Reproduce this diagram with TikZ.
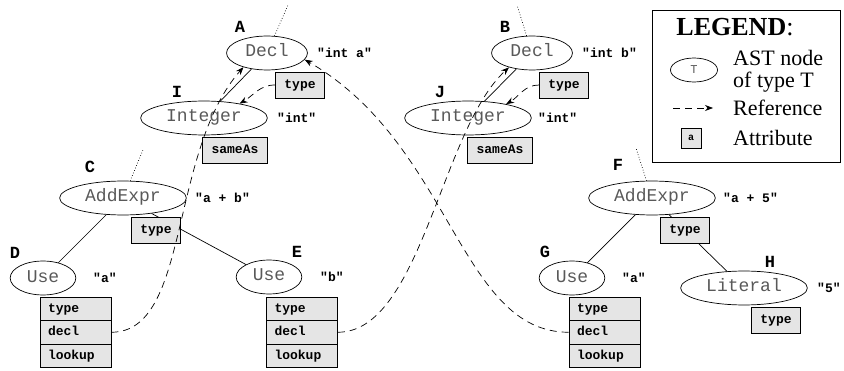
\documentclass[tikz,border=0pt]{standalone}
\usepackage{fontspec}
\setmainfont{Liberation Serif}
\setmonofont{Liberation Mono}
\usetikzlibrary{arrows.meta,shapes.geometric}
\tikzset{
	ast/.style={ellipse, draw, line width=0.7pt, inner xsep=7pt, inner ysep=5pt, text height=11pt, text depth=3pt, text=black!65, font=\fontsize{18}{18}\selectfont\ttfamily},
	attr/.style={draw, line width=0.7pt, fill=black!10, inner xsep=9pt, minimum height=26pt, text height=9pt, text depth=2pt, font=\fontsize{13}{13}\selectfont\ttfamily\bfseries},
	attrrow/.style={attr, minimum height=23.5pt, text width=55pt, inner xsep=8pt, align=left},
	nodetag/.style={font=\fontsize{17}{17}\selectfont\ttfamily\bfseries},
	srctext/.style={anchor=west, inner sep=0pt, font=\fontsize{13}{13}\selectfont\ttfamily\bfseries},
	link/.style={line width=0.7pt},
	uplink/.style={line width=0.7pt, dotted},
	refline/.style={line width=0.7pt, dash pattern=on 7pt off 5pt, -{Stealth[length=8pt,width=6pt]}},
	legendtext/.style={anchor=west, inner sep=0pt, font=\fontsize{22}{22}\selectfont},
}
\begin{document}
\begin{tikzpicture}[x=1pt, y=1pt]
			%%%%% START %%%%%
			\useasboundingbox (0, 0) rectangle (844, 370);
			
			% AST nodes
			\node[ast] (declA) at (267, 317) {Decl};
			\node[ast] (intI) at (204, 252) {Integer};
			\node[ast] (addC) at (123, 172) {AddExpr};
			\node[ast] (useD) at (43, 92) {Use};
			\node[ast] (useE) at (269, 93) {Use};
			
			\node[ast] (declB) at (532, 317) {Decl};
			\node[ast] (intJ) at (468, 252) {Integer};
			\node[ast] (addF) at (652, 172) {AddExpr};
			\node[ast] (useG) at (572, 92) {Use};
			\node[ast] (litH) at (744, 82) {Literal};
			
			% letters
			\node[nodetag] (tagA) at (240, 343) {A};
			\node[nodetag] (tagI) at (177, 278) {I};
			\node[nodetag] (tagC) at (90, 203) {C};
			\node[nodetag] (tagD) at (15, 117) {D};
			\node[nodetag] (tagE) at (297, 118) {E};
			\node[nodetag] (tagB) at (505, 343) {B};
			\node[nodetag] (tagJ) at (440, 278) {J};
			\node[nodetag] (tagF) at (618, 205) {F};
			\node[nodetag] (tagG) at (545, 118) {G};
			\node[nodetag] (tagH) at (770, 108) {H};
			
			% source text
			\node[srctext] (valA) at (317, 317) {"int a"};
			\node[srctext] (valI) at (277, 252) {"int"};
			\node[srctext] (valC) at (195, 172) {"a + b"};
			\node[srctext] (valD) at (93, 92) {"a"};
			\node[srctext] (valE) at (320, 93) {"b"};
			\node[srctext] (valB) at (582, 317) {"int b"};
			\node[srctext] (valJ) at (538, 252) {"int"};
			\node[srctext] (valF) at (723, 172) {"a + 5"};
			\node[srctext] (valG) at (622, 92) {"a"};
			\node[srctext] (valH) at (817, 82) {"5"};
			
			% tree edges
			\draw[link] (declA) -- (intI);
			\draw[link] (addC) -- (useD);
			\draw[link] (addC) -- (useE);
			\draw[link] (declB) -- (intJ);
			\draw[link] (addF) -- (useG);
			\draw[link] (addF) -- (litH);
			
			\coordinate (upA) at (288, 365);
			\coordinate (upB) at (517, 365);
			\coordinate (upC) at (143, 220);
			\coordinate (upF) at (636, 222);
			\draw[uplink] (declA) -- (upA);
			\draw[uplink] (declB) -- (upB);
			\draw[uplink] (addC) -- (upC);
			\draw[uplink] (addF) -- (upF);
			
			% attributes
			\node[attr] (typeA) at (300, 285) {type};
			\node[attr] (sameI) at (235, 220) {sameAs};
			\node[attr] (typeC) at (156, 140) {type};
			\node[attr] (typeB) at (564, 285) {type};
			\node[attr] (sameJ) at (500, 220) {sameAs};
			\node[attr] (typeF) at (685, 140) {type};
			\node[attr] (typeH) at (776, 50) {type};
			
			\node[attrrow] (typeD) at (75.5, 61.25) {type};
			\node[attrrow] (declD) at (75.5, 37.75) {decl};
			\node[attrrow] (lookupD) at (75.5, 14.25) {lookup};
			
			\node[attrrow] (typeE) at (302, 61.25) {type};
			\node[attrrow] (declE) at (302, 37.75) {decl};
			\node[attrrow] (lookupE) at (302, 14.25) {lookup};
			
			\node[attrrow] (typeG) at (604.5, 61.25) {type};
			\node[attrrow] (declG) at (604.5, 37.75) {decl};
			\node[attrrow] (lookupG) at (604.5, 14.25) {lookup};
			
			% references
			\draw[refline] (typeA.west) to[out=180, in=30] (intI.22);
			\draw[refline] (typeB.west) to[out=180, in=30] (intJ.20);
			\draw[refline] (declD.east) .. controls +(79, 0) and +(-75, -85) .. (declA.211);
			\draw[refline] (declE.east) .. controls +(83, 0) and +(-68, -62) .. (declB.212);
			\draw[refline] (declG.west) .. controls +(-109, 0) and +(147, -85) .. (declA.-10);
			
			% legend
			\node[draw, line width=0.8pt, inner sep=0pt, minimum width=188pt, minimum height=152pt] (legendbox) at (746, 284) {};
			\node[font=\fontsize{26}{26}\selectfont] (legendtitle) at (735, 343) {\textbf{LEGEND}:};
			\node[ast, minimum width=47pt, minimum height=24pt, inner ysep=2pt, text height=8pt, text depth=0pt, font=\fontsize{12}{12}\selectfont\ttfamily] (legendast) at (694, 300) {T};
			\node[legendtext, align=left] (legendasttext) at (733, 299) {AST node\\of type T};
			\coordinate (legendrefa) at (673, 262);
			\coordinate (legendrefb) at (713, 262);
			\draw[refline] (legendrefa) -- (legendrefb);
			\node[legendtext] (legendreftext) at (733, 262) {Reference};
			\node[attr, minimum width=20pt, minimum height=20pt, inner sep=0pt, text height=6pt, text depth=0pt, font=\fontsize{10}{10}\selectfont\ttfamily\bfseries] (legendattr) at (691, 232) {a};
			\node[legendtext] (legendattrtext) at (733, 232) {Attribute};
			
			%%%%% END %%%%%
\end{tikzpicture}
\end{document}
